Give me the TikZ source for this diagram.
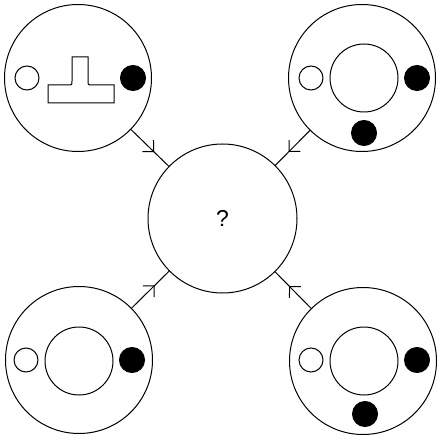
\documentclass[tikz,border=0pt]{standalone}
\usepackage{fontspec}
\setmainfont{Liberation Sans}
\usetikzlibrary{decorations.markings}
\begin{document}
\begin{tikzpicture}[x=1pt,y=-1pt,line width=1pt,
  outer/.style={circle,draw,inner sep=0pt,minimum size=147pt},
  hub/.style={circle,draw,inner sep=0pt,minimum size=149pt},
  core/.style={circle,draw,inner sep=0pt,minimum size=68pt},
  hole/.style={circle,draw,inner sep=0pt,minimum size=24pt},
  dot/.style={circle,draw,fill=black,inner sep=0pt,minimum size=25pt},
  feed/.style={postaction={decorate},decoration={markings,
    mark=at position 0.6 with {\draw[line width=1pt] (-8pt,8pt)--(0,0)--(-8pt,-8pt);}}}]
\useasboundingbox (0,0) rectangle (437,438);
% hub
\node[hub] (c) at (222.5,218.5) {\fontsize{23}{25}\selectfont ?};
% top-left
\node[outer] (tl) at (78,78) {};
\node[hole] (tlh) at (27,78) {};
\node[dot] (tld) at (133,78) {};
\draw (48,103) -- (48,85) -- (68,85) .. controls (72,85) .. (72,81) -- (72,57) -- (88,57) -- (88,81) .. controls (88,85) .. (92,85) -- (114,85) -- (114,103) -- cycle;
% top-right
\node[outer] (tr) at (362,78) {};
\node[hole] (trh) at (311,78) {};
\node[core] (trc) at (364,78) {};
\node[dot] (trd) at (417,78) {};
\node[dot] (trb) at (364,133) {};
% bottom-left
\node[outer] (bl) at (79,360) {};
\node[hole] (blh) at (26,360) {};
\node[core] (blc) at (79,361) {};
\node[dot] (bld) at (132,360) {};
% bottom-right
\node[outer] (br) at (363,361) {};
\node[hole] (brh) at (311,360) {};
\node[core] (brc) at (364,361) {};
\node[dot] (brd) at (417,360) {};
\node[dot] (brb) at (365,414) {};
% connectors
\draw[feed] (tl) -- (c);
\draw[feed] (tr) -- (c);
\draw[feed] (bl) -- (c);
\draw[feed] (br) -- (c);
\end{tikzpicture}
\end{document}
